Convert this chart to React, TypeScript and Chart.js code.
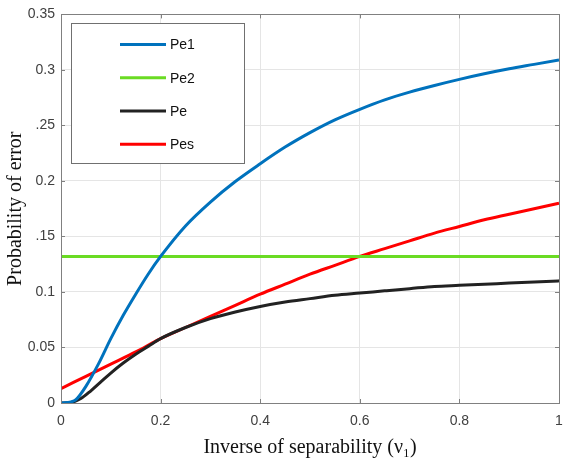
import React, { useEffect, useRef } from "react";
import { Chart, registerables } from "chart.js";

Chart.register(...registerables);

const xPe1 = [0, 0.02, 0.03, 0.05, 0.075, 0.1, 0.125, 0.15, 0.175, 0.2, 0.25, 0.3, 0.35, 0.4, 0.45, 0.5, 0.55, 0.6, 0.65, 0.7, 0.75, 0.8, 0.85, 0.9, 0.95, 1];
const yPe1 = [0, 0.001, 0.003, 0.015, 0.035, 0.058, 0.079, 0.098, 0.116, 0.132, 0.1595, 0.181, 0.1995, 0.2155, 0.2305, 0.2435, 0.255, 0.2645, 0.273, 0.28, 0.286, 0.2915, 0.2965, 0.301, 0.305, 0.309];

const xPe2 = [0, 1];
const yPe2 = [0.132, 0.132];

const xPe = [0, 0.02, 0.04, 0.06, 0.08, 0.1, 0.125, 0.15, 0.175, 0.2, 0.25, 0.3, 0.35, 0.4, 0.45, 0.5, 0.55, 0.6, 0.65, 0.7, 0.75, 0.8, 0.85, 0.9, 0.95, 1];
const yPe = [0, 0.0005, 0.004, 0.011, 0.019, 0.027, 0.036, 0.044, 0.051, 0.058, 0.068, 0.076, 0.082, 0.087, 0.091, 0.094, 0.097, 0.099, 0.101, 0.103, 0.105, 0.106, 0.107, 0.108, 0.109, 0.11];

const xPes = [0, 0.05, 0.1, 0.15, 0.2, 0.25, 0.3, 0.35, 0.4, 0.45, 0.5, 0.55, 0.6, 0.65, 0.7, 0.75, 0.8, 0.85, 0.9, 0.95, 1];
const yPes = [0.013, 0.024, 0.035, 0.046, 0.058, 0.068, 0.078, 0.088, 0.098, 0.107, 0.116, 0.124, 0.132, 0.139, 0.146, 0.153, 0.159, 0.165, 0.17, 0.175, 0.18];

const seriesNames = ["Pe1", "Pe2", "Pe", "Pes"];
const seriesColors = ["#0072BD", "#6ADB23", "#222222", "#FF0000"];

const yTickLabels = ["0", "0.05", "0.1", ".15", "0.2", ".25", "0.3", "0.35"];
const xTickLabels = ["0", "0.2", "0.4", "0.6", "0.8", "1"];

const zip = (xs: number[], ys: number[]) => xs.map((x, i) => ({ x, y: ys[i] }));

const framePlugin = {
  id: "frameLegend",
  afterDraw(chart: any) {
    const ctx = chart.ctx;
    const a = chart.chartArea;
    ctx.save();
    ctx.strokeStyle = "#808080";
    ctx.lineWidth = 1;
    ctx.strokeRect(Math.round(a.left) + 0.5, Math.round(a.top) + 0.5, Math.round(a.right - a.left), Math.round(a.bottom - a.top));
    // inward tick marks
    const xs = chart.scales.x;
    const ys = chart.scales.y;
    ctx.beginPath();
    xs.ticks.forEach((t: any) => {
      const px = Math.round(xs.getPixelForValue(t.value)) + 0.5;
      ctx.moveTo(px, a.bottom);
      ctx.lineTo(px, a.bottom - 4);
      ctx.moveTo(px, a.top);
      ctx.lineTo(px, a.top + 4);
    });
    ys.ticks.forEach((t: any) => {
      const py = Math.round(ys.getPixelForValue(t.value)) + 0.5;
      ctx.moveTo(a.left, py);
      ctx.lineTo(a.left + 4, py);
      ctx.moveTo(a.right, py);
      ctx.lineTo(a.right - 4, py);
    });
    ctx.stroke();
    // legend box
    const lx = a.left + 10;
    const ly = a.top + 9;
    const lw = 173;
    const lh = 140;
    ctx.fillStyle = "#ffffff";
    ctx.fillRect(lx, ly, lw, lh);
    ctx.strokeStyle = "#707070";
    ctx.strokeRect(Math.round(lx) + 0.5, Math.round(ly) + 0.5, lw, lh);
    ctx.font = "14px 'Liberation Sans', Arial, sans-serif";
    ctx.textBaseline = "middle";
    ctx.textAlign = "left";
    seriesNames.forEach((name, i) => {
      const yy = ly + 21 + i * 33.3;
      ctx.strokeStyle = seriesColors[i];
      ctx.lineWidth = 3;
      ctx.beginPath();
      ctx.moveTo(lx + 49, yy);
      ctx.lineTo(lx + 95, yy);
      ctx.stroke();
      ctx.fillStyle = "#111111";
      ctx.fillText(name, lx + 99, yy + 1);
    });
    ctx.restore();
  },
};

export default function App() {
  const ref = useRef<HTMLCanvasElement>(null);
  useEffect(() => {
    document.body.style.margin = "0";
    const chart = new Chart(ref.current as HTMLCanvasElement, {
      type: "line",
      data: {
        datasets: [
          { label: seriesNames[0], data: zip(xPe1, yPe1) },
          { label: seriesNames[1], data: zip(xPe2, yPe2) },
          { label: seriesNames[2], data: zip(xPe, yPe) },
          { label: seriesNames[3], data: zip(xPes, yPes) },
        ].map((d, i) => ({
          ...d,
          borderColor: seriesColors[i],
          backgroundColor: seriesColors[i],
          borderWidth: 3,
          pointRadius: 0,
          fill: false,
          cubicInterpolationMode: "monotone" as const,
        })),
      },
      options: {
        animation: false,
        responsive: false,
        maintainAspectRatio: false,
        layout: { padding: { top: 11, right: 4, left: 0, bottom: 0 } },
        plugins: { legend: { display: false }, tooltip: { enabled: false } },
        scales: {
          x: {
            type: "linear",
            min: 0,
            max: 1,
            afterBuildTicks: (s: any) => {
              s.ticks = xTickLabels.map((_, i) => ({ value: i * 0.2 }));
            },
            afterFit: (s: any) => {
              s.height = 57;
              s.paddingLeft = 0;
              s.paddingRight = 0;
            },
            ticks: {
              callback: (_v: any, i: number) => xTickLabels[i],
              color: "#404040",
              font: { family: "'Liberation Sans', Arial, sans-serif", size: 14 },
              padding: 10,
              maxRotation: 0,
            },
            grid: { color: "#e5e5e5", tickLength: 0, drawTicks: false },
            border: { display: false },
            title: {
              display: true,
              text: "Inverse of separability (ν₁)",
              color: "#111111",
              font: { family: "'Liberation Serif', 'Times New Roman', serif", size: 20 },
              padding: { top: 6, bottom: 0 },
            },
          },
          y: {
            type: "linear",
            min: 0,
            max: 0.35,
            afterBuildTicks: (s: any) => {
              s.ticks = yTickLabels.map((_, i) => ({ value: i * 0.05 }));
            },
            afterFit: (s: any) => {
              s.width = 61;
            },
            ticks: {
              callback: (_v: any, i: number) => yTickLabels[i],
              color: "#404040",
              font: { family: "'Liberation Sans', Arial, sans-serif", size: 14 },
              padding: 6,
            },
            grid: { color: "#e5e5e5", tickLength: 0, drawTicks: false },
            border: { display: false },
            title: {
              display: true,
              text: "Probability of error",
              color: "#111111",
              font: { family: "'Liberation Serif', 'Times New Roman', serif", size: 20 },
              padding: { top: 4, bottom: 0 },
            },
          },
        },
      },
      plugins: [framePlugin],
    });
    return () => chart.destroy();
  }, []);
  return (
    <div style={{ position: "absolute", left: 0, top: 0, width: 563, height: 460, background: "#fff" }}>
      <canvas ref={ref} width={563} height={460} style={{ width: 563, height: 460 }} />
    </div>
  );
}
